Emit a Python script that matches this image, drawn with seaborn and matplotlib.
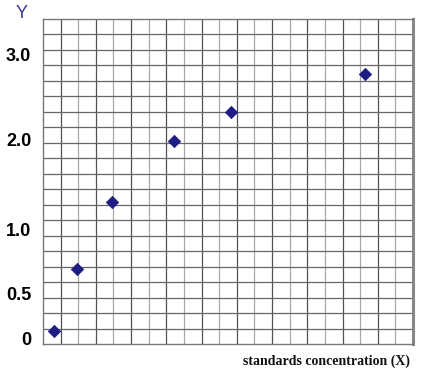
import matplotlib
matplotlib.use("Agg")
import matplotlib.pyplot as plt
import seaborn as sns
import numpy as np
import pandas as pd

# Data (in grid-cell units)
x_vals = [0.63, 1.95, 3.90, 7.46, 10.66, 18.30]
y_vals = [0.86, 4.84, 9.21, 13.11, 15.02, 17.43]
ytick_pos = [0.39, 3.29, 7.44, 13.23, 18.68]
ytick_labels = ["0", "0.5", "1.0", "2.0", "3.0"]
n_cells = 21

df = pd.DataFrame({"x": x_vals, "y": y_vals})

fig = plt.figure(figsize=(4.27, 3.77), dpi=100)
ax = fig.add_axes([43/427, 1 - 344.3/377, 370/427, 325.3/377])

# grid
for k in range(1, n_cells):
    col = "#505050" if k % 2 == 1 else "#a8a8a8"
    ax.axvline(k, color=col, lw=0.9, zorder=1)
for k in range(1, n_cells):
    ax.axhline(k, color="#666666", lw=0.9, zorder=1)

sns.scatterplot(data=df, x="x", y="y", marker="D", color="#1c1c84",
                s=40, edgecolor="#1c1c84", linewidth=0.5, ax=ax, zorder=3)

ax.set_xlim(0, n_cells)
ax.set_ylim(0, n_cells)
ax.set_xticks([])
ax.set_yticks(ytick_pos)
ax.set_yticklabels(ytick_labels, fontfamily="Liberation Sans",
                   fontweight="bold", fontsize=13)
ax.tick_params(axis="y", length=0, pad=8.5)
ax.set_xlabel("")
ax.set_ylabel("")

for side in ["left", "bottom", "top"]:
    ax.spines[side].set_color("#777777")
    ax.spines[side].set_linewidth(1.0)
ax.spines["right"].set_color("#888888")
ax.spines["right"].set_linewidth(2.2)

fig.text(21.5/427, 1 - 13.5/377, "Y", color="#3a3a9a", fontsize=13,
         fontfamily="Liberation Sans", ha="center", va="center")
fig.text(410/427, 1 - 361.7/377, "standards concentration (X)",
         fontfamily="Liberation Serif", fontweight="bold", fontsize=10,
         ha="right", va="center", color="#111111")

fig.savefig("out.png", dpi=100)
